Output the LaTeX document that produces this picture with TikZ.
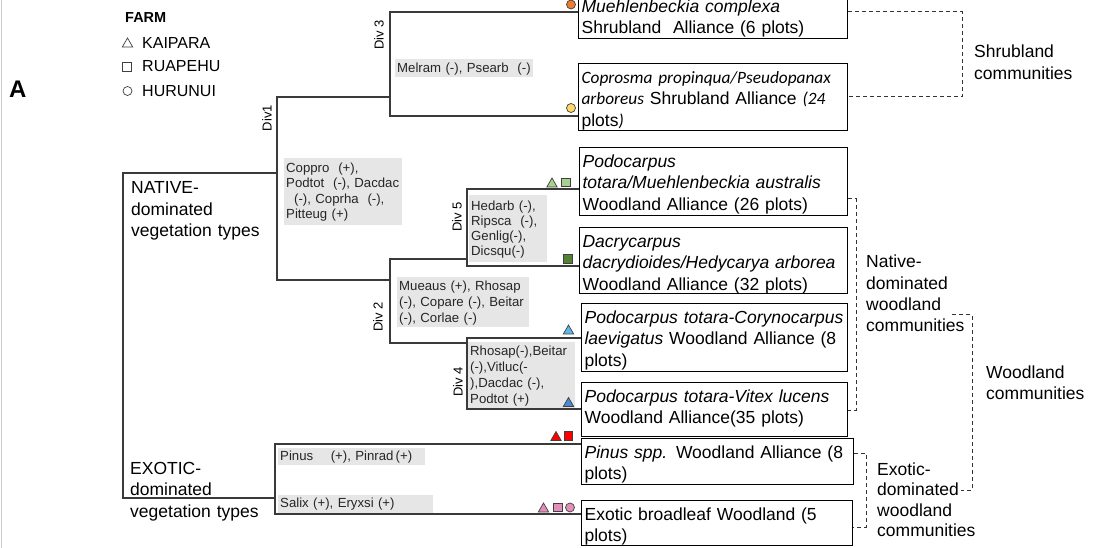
\documentclass[tikz,border=0pt]{standalone}
\usepackage{fontspec}
\setmainfont{Liberation Sans}
\newfontfamily\carl{Carlito}
\usetikzlibrary{shapes.geometric}
\definecolor{lc}{HTML}{3A3A3A}
\definecolor{mko}{HTML}{404040}
\definecolor{gfill}{HTML}{E6E6E6}
\definecolor{dc}{HTML}{333333}
\definecolor{morange}{HTML}{ED7D31}
\definecolor{myellow}{HTML}{FFD966}
\definecolor{mlgreen}{HTML}{A9D18E}
\definecolor{mdgreen}{HTML}{548235}
\definecolor{mlblue}{HTML}{5DB8E8}
\definecolor{mblue}{HTML}{4A8AD0}
\definecolor{mred}{HTML}{FF0000}
\definecolor{mpink}{HTML}{E38FBA}
\newcommand\bxfont{\fontsize{17.5}{21.5}\selectfont}
\newcommand\gyfont{\fontsize{13.2}{16}\selectfont}
\newcommand\calit{\carl\itshape\fontsize{17.3}{21.5}\selectfont}
\begin{document}
\begin{tikzpicture}[x=1pt,y=-1pt,
  box/.style={draw=black, line width=1.2pt, inner xsep=3pt, inner ysep=0pt, anchor=north west, align=left, font=\bxfont, text height=19.5pt},
  gbox/.style={fill=gfill, inner xsep=2pt, inner ysep=0pt, anchor=north west, align=left, text=black!85, font=\gyfont},
  tl/.style={draw=lc, line width=1.4pt},
  dsh/.style={draw=dc, line width=1pt, dash pattern=on 4pt off 3pt},
  divlab/.style={rotate=90, font=\fontsize{13}{15}\selectfont, inner sep=0pt},
  lab/.style={anchor=base west, align=left, inner sep=0pt, font=\bxfont},
  mk/.style={draw=mko, line width=0.7pt, inner sep=0pt},
  tri/.style={mk, regular polygon, regular polygon sides=3, minimum size=12pt},
  sqr/.style={mk, rectangle, minimum size=8.5pt},
  crc/.style={mk, circle, minimum size=9pt}]
\useasboundingbox (0,0) rectangle (1096,548);
\fill[white] (0,0) rectangle (1096,548);
\clip (0,0) rectangle (1096,548);
\draw[black!20, line width=0.8pt] (1,0) -- (1,548);

% legend
\node[anchor=base west, inner sep=0pt, font=\fontsize{24}{27}\selectfont\bfseries] (lA) at (9,98) {A};
\node[anchor=base west, inner sep=0pt, font=\fontsize{14.5}{17}\selectfont\bfseries] (farm) at (125,23) {FARM};
\node[tri, fill=white] (lt) at (127.5,44) {};
\node[sqr, fill=white] (ls) at (127,67) {};
\node[crc, fill=white] (lc) at (127.5,91) {};
\node[anchor=base west, inner sep=0pt, font=\fontsize{16}{19}\selectfont] (lk) at (142,49) {KAIPARA};
\node[anchor=base west, inner sep=0pt, font=\fontsize{16}{19}\selectfont] (lr) at (142,72) {RUAPEHU};
\node[anchor=base west, inner sep=0pt, font=\fontsize{16}{19}\selectfont] (lh) at (142,97) {HURUNUI};

% boxes
\node[box, text width=263pt, text depth=26.5pt] (b1) at (578,-8) {\textit{Muehlenbeckia complexa}\\Shrubland\ \ Alliance (6 plots)};
\node[box, text width=263pt, text depth=47.5pt] (b2) at (578,63) {\mbox{\calit Coprosma propinqua/Pseudopanax}\\\mbox{{\calit arboreus} Shrubland Alliance {\calit (24}}\\plots{\calit )}};
\node[box, text width=262pt, text depth=48.5pt] (b3) at (579,147) {\textit{Podocarpus}\\\textit{totara/Muehlenbeckia australis}\\Woodland Alliance (26 plots)};
\node[box, text width=262pt, text depth=46.5pt] (b4) at (579,227) {\textit{Dacrycarpus}\\\textit{dacrydioides/Hedycarya arborea}\\Woodland Alliance (32 plots)};
\node[box, text width=260pt, text depth=48.5pt] (b5) at (581,303) {\textit{Podocarpus totara-Corynocarpus}\\\textit{laevigatus} Woodland Alliance (8\\plots)};
\node[box, text width=260pt, text depth=34.5pt] (b6) at (581,382) {\textit{Podocarpus totara-Vitex lucens}\\Woodland Alliance(35 plots)};
\node[box, text width=266pt, text depth=26.5pt] (b7) at (581,438) {\textit{Pinus spp.} Woodland Alliance (8\\plots)};
\node[box, text width=265pt, text depth=25.5pt] (b8) at (581,500) {Exotic broadleaf Woodland (5\\plots)};

% grey labels
\node[gbox, text width=134pt, text height=13pt, text depth=5pt] (g1) at (395,59) {Melram (-), Psearb\ \ (-)};
\node[gbox, text width=114pt, text height=14pt, text depth=53pt, font=\fontsize{13.2}{15.5}\selectfont] (g2) at (284,158) {Coppro\ \ (+),\\Podtot\ \ (-), Dacdac\\\hspace*{8pt}(-), Coprha\ \ (-),\\Pitteug (+)};
\node[gbox, text width=128pt, text height=13.5pt, text depth=36.5pt] (g3) at (397,277) {Mueaus (+), Rhosap\\(-), Copare (-), Beitar\\(-), Corlae (-)};
\node[gbox, text width=74pt, text height=15pt, text depth=52pt, font=\fontsize{13.2}{15}\selectfont] (g4) at (469,195) {Hedarb (-),\\Ripsca\ \ (-),\\Genlig(-),\\Dicsqu(-)};
\node[gbox, text width=103pt, text height=13.5pt, text depth=52.5pt] (g5) at (468,342) {Rhosap(-),Beitar\\(-),Vitluc(-\\),Dacdac (-),\\Podtot (+)};
\node[gbox, text width=143pt, text height=12.5pt, text depth=4.5pt] (g6) at (278,448) {Pinus\ \ \ \ (+), Pinrad\,(+)};
\node[gbox, text width=151pt, text height=12pt, text depth=6pt] (g7) at (278,495) {Salix (+), Eryxsi (+)};

% div labels
\node[divlab] (v1) at (267,118) {Div1};
\node[divlab] (v3) at (379,35) {Div 3};
\node[divlab] (v5) at (457,217) {Div 5};
\node[divlab] (v2) at (378,317) {Div 2};
\node[divlab] (v4) at (458,382) {Div 4};

% tree
\coordinate (r1) at (123,173);
\coordinate (r2) at (123,498);
\coordinate (d1t) at (277,97);
\coordinate (d1b) at (277,280);
\coordinate (d1m) at (277,173);
\coordinate (d3t) at (390,12);
\coordinate (d3b) at (390,116);
\coordinate (d3m) at (390,97);
\coordinate (d2t) at (390,259);
\coordinate (d2b) at (390,343);
\coordinate (d2m) at (390,280);
\coordinate (d5t) at (467,189);
\coordinate (d5b) at (467,266);
\coordinate (d5m) at (467,259);
\coordinate (d4t) at (467,338);
\coordinate (d4b) at (467,409);
\coordinate (d4m) at (467,343);
\coordinate (ext) at (275,444);
\coordinate (exb) at (275,514);
\coordinate (exm) at (275,498);

\draw[tl] (d1m) -- (r1) -- (r2) -- (exm);
\draw[tl] (d3m) -- (d1t) -- (d1b) -- (d2m);
\draw[tl] (b1.west |- d3t) -- (d3t) -- (d3b) -- (b2.west |- d3b);
\draw[tl] (d5m) -- (d2t) -- (d2b) -- (d4m);
\draw[tl] (b3.west |- d5t) -- (d5t) -- (d5b) -- (b4.west |- d5b);
\draw[tl] (b5.west |- d4t) -- (d4t) -- (d4b) -- (b6.west |- d4b);
\draw[tl] (b7.west |- ext) -- (ext) -- (exb) -- (b8.west |- exb);

% markers
\node[crc, fill=morange] (m1) at (571,4.5) {};
\node[crc, fill=myellow] (m2) at (571,108) {};
\node[tri, fill=mlgreen] (m3) at (552,184) {};
\node[sqr, fill=mlgreen] (m4) at (566,182.5) {};
\node[sqr, fill=mdgreen] (m5) at (568,259) {};
\node[tri, fill=mlblue] (m6) at (568.5,331) {};
\node[tri, fill=mblue] (m7) at (568.5,403.5) {};
\node[tri, fill=mred] (m8) at (556,437.5) {};
\node[sqr, fill=mred] (m9) at (568.5,436) {};
\node[tri, fill=mpink] (m10) at (543.5,509) {};
\node[sqr, fill=mpink] (m11) at (558,507.5) {};
\node[crc, fill=mpink] (m12) at (570,507.5) {};

% left labels
\node[lab, text width=150pt] (nat) at (131,194) {NATIVE-\\dominated\\vegetation types};
\node[lab, text width=150pt] (exo) at (130,474) {EXOTIC-\\dominated\\vegetation types};

% right labels
\node[lab, text width=120pt] (shl) at (974,58) {Shrubland\\communities};
\node[lab, text width=120pt, font=\fontsize{17.5}{21.3}\selectfont] (nwl) at (866,268) {Native-\\dominated\\woodland\\communities};
\node[lab, text width=120pt] (wdl) at (986,378) {Woodland\\communities};
\node[lab, text width=120pt, font=\fontsize{17.5}{20.5}\selectfont] (exl) at (877,475) {Exotic-\\dominated\\woodland\\communities};

% dashed brackets
\coordinate (sh1) at (962,12);
\coordinate (sh2) at (962,97);
\draw[dsh] (b1.east |- sh1) -- (sh1) -- (sh2) -- (b2.east |- sh2);
\coordinate (nw1) at (856,199);
\coordinate (nw2) at (856,410);
\draw[dsh] (b3.east |- nw1) -- (nw1) -- (nw2) -- (b6.east |- nw2);
\coordinate (wa) at (952,315);
\coordinate (wd1) at (972,315);
\coordinate (wd2) at (972,490);
\coordinate (wb) at (961,490);
\draw[dsh] (wa) -- (wd1) -- (wd2) -- (wb);
\coordinate (ex1) at (866,453);
\coordinate (ex2) at (866,527);
\draw[dsh] (b7.east |- ex1) -- (ex1) -- (ex2) -- (b8.east |- ex2);
\end{tikzpicture}
\end{document}
